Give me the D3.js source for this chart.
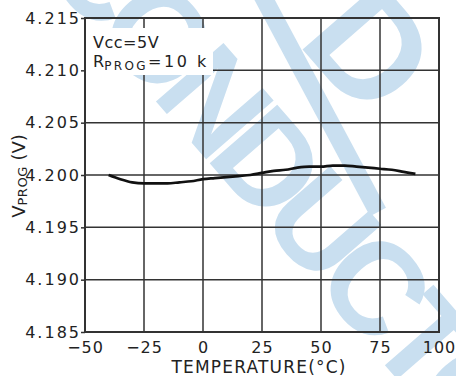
<!DOCTYPE html>
<html>
<head>
<meta charset="utf-8">
<script src="https://cdn.jsdelivr.net/npm/d3@7/dist/d3.min.js"></script>
<style>
  html, body { margin: 0; padding: 0; background: #fff; }
  svg { display: block; }
  text { font-family: "DejaVu Sans", sans-serif; fill: #222; }
</style>
</head>
<body>
<svg id="chart" width="456" height="376"></svg>
<script>
// Temperature sweep (°C) and measured PROG pin voltage (V)
const temperature = [-40, -35, -30, -25, -20, -15, -10, -5, 0, 5, 10, 15, 20, 25, 30, 35, 40, 45, 50, 55, 60, 65, 70, 75, 80, 85, 90];
const vprog = [4.2000, 4.1996, 4.1993, 4.1992, 4.1992, 4.1992, 4.1993, 4.1994, 4.1996, 4.1997, 4.1998, 4.1999, 4.2000, 4.2002, 4.2004, 4.2005, 4.2007, 4.2008, 4.2008, 4.2009, 4.2009, 4.2008, 4.2007, 4.2006, 4.2005, 4.2003, 4.2001];

// Axis ticks
const xTicks = [-50, -25, 0, 25, 50, 75, 100];
const yTicks = [4.185, 4.190, 4.195, 4.200, 4.205, 4.210, 4.215];

const width = 456, height = 376;
const margin = { top: 18, right: 17, bottom: 44, left: 85 };

const svg = d3.select("#chart");

// Faint background lettering
const wmColor = "#c9dff0";
const wmFont = "Liberation Sans, Arial, sans-serif";
svg.append("g")
  .attr("transform", "translate(38,-34) rotate(49)")
  .append("text")
  .style("font-family", wmFont)
  .style("font-weight", "bold")
  .style("font-size", "130px")
  .style("letter-spacing", "-12px")
  .style("fill", wmColor)
  .text("CONDUCTOR");
svg.append("g")
  .attr("transform", "translate(296,42) rotate(49)")
  .append("text")
  .style("font-family", wmFont)
  .style("font-weight", "bold")
  .style("font-size", "150px")
  .style("fill", wmColor)
  .text("D");
svg.append("line")
  .attr("x1", 262).attr("y1", -5).attr("x2", 378).attr("y2", 212)
  .attr("stroke", wmColor).attr("stroke-width", 18);

const x = d3.scaleLinear().domain([-50, 100]).range([margin.left, width - margin.right]);
const y = d3.scaleLinear().domain([4.185, 4.215]).range([height - margin.bottom, margin.top]);

const gridColor = "#333";

// Grid
svg.append("g").selectAll("line.v")
  .data(xTicks.slice(1, -1))
  .join("line")
  .attr("x1", d => x(d)).attr("x2", d => x(d))
  .attr("y1", y(4.215)).attr("y2", y(4.185))
  .attr("stroke", gridColor).attr("stroke-width", 1.5);

svg.append("g").selectAll("line.h")
  .data(yTicks.slice(1, -1))
  .join("line")
  .attr("x1", x(-50)).attr("x2", x(100))
  .attr("y1", d => y(d)).attr("y2", d => y(d))
  .attr("stroke", gridColor).attr("stroke-width", 1.5);

// Clear box behind the test-condition note
svg.append("rect")
  .attr("x", x(-50) + 1).attr("y", 28)
  .attr("width", 127).attr("height", 47)
  .attr("fill", "#fff");

// Frame
svg.append("rect")
  .attr("x", x(-50)).attr("y", y(4.215))
  .attr("width", x(100) - x(-50)).attr("height", y(4.185) - y(4.215))
  .attr("fill", "none").attr("stroke", gridColor).attr("stroke-width", 2);

// Axes
const yAxis = d3.axisLeft(y).tickValues(yTicks).tickSize(4).tickFormat(d3.format(".3f"));
const gy = svg.append("g").attr("transform", `translate(${margin.left},0)`).call(yAxis);
gy.select(".domain").remove();
gy.selectAll(".tick line").attr("stroke", gridColor).attr("stroke-width", 1.5);
gy.selectAll(".tick text")
  .attr("x", -4)
  .style("font-size", "16px")
  .style("letter-spacing", "2px")
  .style("fill", "#222");

const xAxis = d3.axisBottom(x).tickValues(xTicks).tickSize(0).tickFormat(d3.format("d"));
const gx = svg.append("g").attr("transform", `translate(0,${height - margin.bottom})`).call(xAxis);
gx.select(".domain").remove();
gx.selectAll(".tick text")
  .attr("y", 10)
  .style("font-size", "16px")
  .style("letter-spacing", "1px")
  .style("fill", "#222")
  .text(d => d < 0 ? "\u2212" + Math.abs(d) : d);

// Curve
const line = d3.line()
  .x((d, i) => x(temperature[i]))
  .y(d => y(d))
  .curve(d3.curveMonotoneX);

svg.append("path")
  .datum(vprog)
  .attr("d", line)
  .attr("fill", "none")
  .attr("stroke", "#111")
  .attr("stroke-width", 2.7)
  .attr("stroke-linejoin", "round");

// Test conditions
const note = svg.append("text").attr("x", 93).attr("y", 48)
  .style("font-size", "16px").style("letter-spacing", "0.5px");
note.append("tspan").text("Vcc=5V");
const note2 = svg.append("text").attr("x", 93).attr("y", 67).style("font-size", "16px");
note2.append("tspan").text("R");
note2.append("tspan").attr("dy", 3).style("font-size", "12px").style("letter-spacing", "2.4px").text("PROG");
note2.append("tspan").attr("dy", -3).style("letter-spacing", "2.5px").text("=10 k");

// Axis titles
svg.append("text")
  .attr("x", 259).attr("y", 373)
  .attr("text-anchor", "middle")
  .style("font-size", "17px")
  .style("letter-spacing", "1.2px")
  .text("TEMPERATURE(°C)");

const yt = svg.append("text")
  .attr("transform", "translate(25,176) rotate(-90)")
  .attr("text-anchor", "middle")
  .style("font-size", "18px");
yt.append("tspan").text("V");
yt.append("tspan").attr("dy", 2).style("font-size", "13px").style("letter-spacing", "0.5px").text("PROG");
yt.append("tspan").attr("dy", -2).text(" (V)");
</script>
</body>
</html>
